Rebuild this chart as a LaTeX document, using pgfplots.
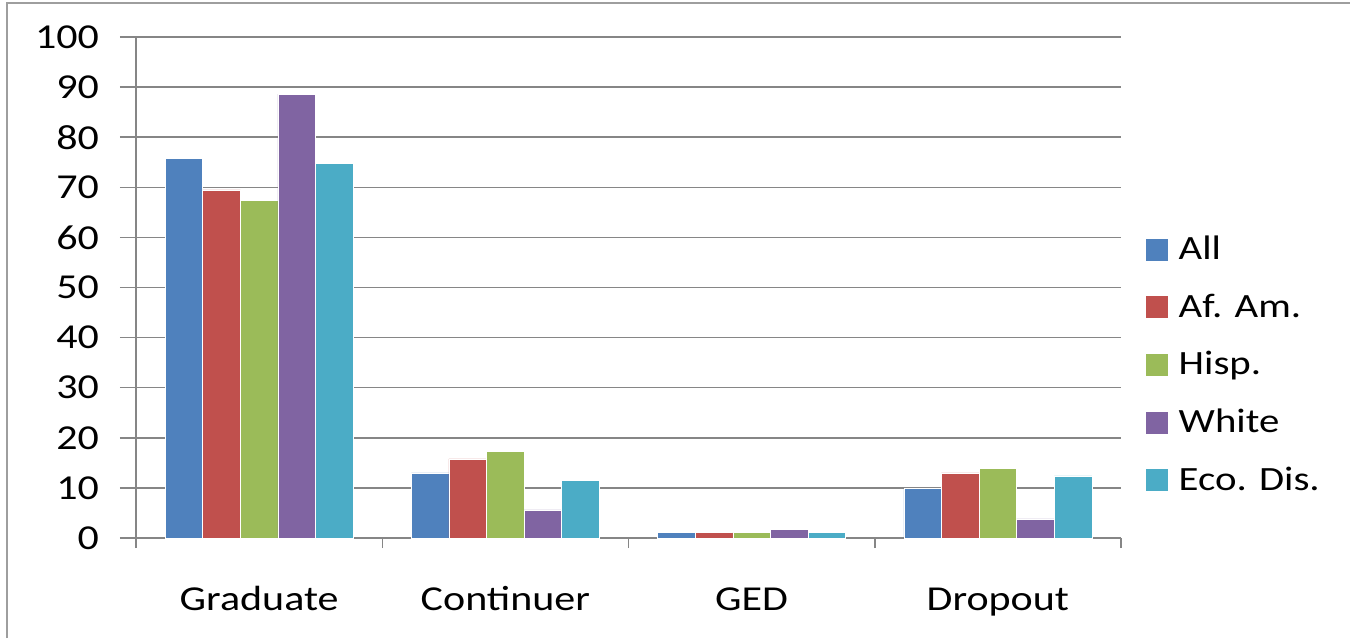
\documentclass[border=0pt]{standalone}
\usepackage{pgfplots}
\pgfplotsset{compat=1.18}
\usepackage{fontspec}
\setmainfont[FakeStretch=1.2]{Carlito}
\definecolor{cAll}{HTML}{4F81BD}
\definecolor{cAf}{HTML}{C0504D}
\definecolor{cHi}{HTML}{9BBB59}
\definecolor{cWh}{HTML}{8064A2}
\definecolor{cEc}{HTML}{4BACC6}
\definecolor{axgray}{HTML}{868686}
\begin{document}
\begin{tikzpicture}
\useasboundingbox (0,0) rectangle (675pt,319pt);
\draw[axgray!80, line width=0.75pt] (3.5pt,0) -- (3.5pt,317.5pt) -- (675pt,317.5pt);
\begin{axis}[
  at={(68pt,50pt)}, anchor=south west,
  scale only axis, width=492.5pt, height=250.5pt,
  ybar=0pt, bar width=18.8pt,
  xmin=-0.5, xmax=3.5, ymin=0, ymax=100,
  xtick={0,1,2,3},
  xticklabels={Graduate,Continuer,GED,Dropout},
  minor xtick={-0.5,0.5,1.5,2.5,3.5},
  ytick={0,10,...,100},
  axis x line*=bottom, axis y line*=left,
  axis line style={axgray, line width=0.75pt, -},
  tick align=outside,
  tick style={axgray, line width=0.75pt},
  major tick length=8pt, minor tick length=5pt,
  major x tick style={draw=none},
  ymajorgrids, grid style={axgray, line width=0.75pt},
  tick label style={font=\fontsize{17.5}{20}\selectfont},
  xticklabel style={anchor=base, yshift=-28pt},
  yticklabel style={anchor=east, xshift=-7pt},
  /pgf/number format/assume math mode=true,
  legend style={at={(1.018,0.619)}, anchor=north west, draw=none, fill=none,
    font=\fontsize{17}{20}\selectfont, row sep=11.6pt,
    /tikz/every odd column/.style={column sep=3pt}},
  legend cell align=left,
  legend image code/.code={\fill[#1] (0pt,-5.75pt) rectangle (11.5pt,5.75pt);},
]
\addplot[fill=cAll, draw=white, line width=0.3pt] coordinates {(0,75.7) (1,13.0) (2,1.1) (3,9.9)};
\addplot[fill=cAf, draw=white, line width=0.3pt] coordinates {(0,69.5) (1,15.8) (2,1.1) (3,13.0)};
\addplot[fill=cHi, draw=white, line width=0.3pt] coordinates {(0,67.4) (1,17.3) (2,1.1) (3,13.9)};
\addplot[fill=cWh, draw=white, line width=0.3pt] coordinates {(0,88.6) (1,5.6) (2,1.7) (3,3.8)};
\addplot[fill=cEc, draw=white, line width=0.3pt] coordinates {(0,74.7) (1,11.5) (2,1.1) (3,12.4)};
\legend{All, Af. Am., Hisp., White, Eco. Dis.}
\end{axis}
\end{tikzpicture}
\end{document}
